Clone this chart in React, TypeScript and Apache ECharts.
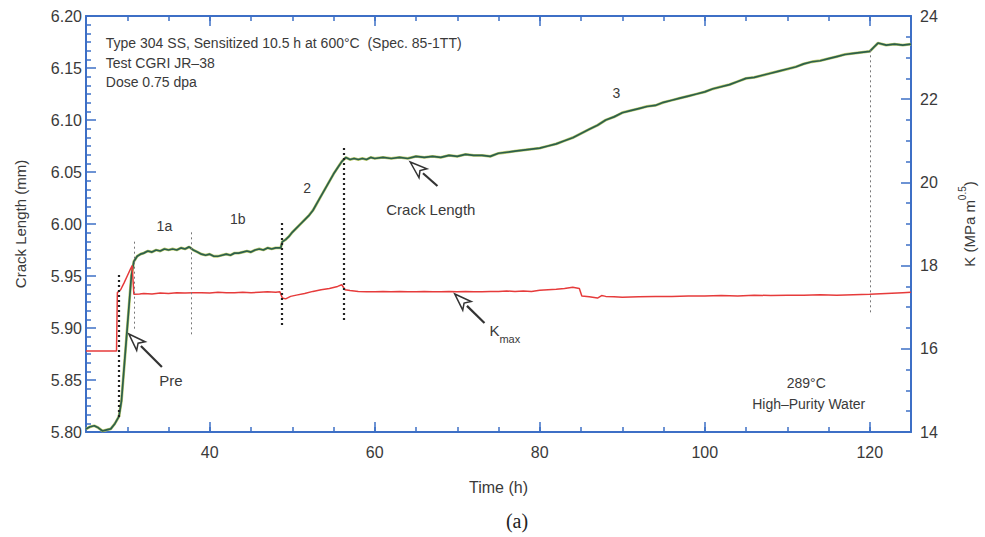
import React, { useEffect, useRef } from "react";
import * as echarts from "echarts";

// ---------- DATA ----------
// Crack length (mm) vs time (h)
const crackData: [number, number][] = [
  [25, 5.803], [25.5, 5.805], [26, 5.806], [26.5, 5.804], [27, 5.801], [27.5, 5.802], [28, 5.803],
  [28.5, 5.808], [29, 5.815], [29.3, 5.83], [29.6, 5.86], [29.9, 5.89], [30.2, 5.92], [30.5, 5.95],
  [30.8, 5.964], [31.2, 5.969], [31.6, 5.971], [32, 5.972], [32.5, 5.974], [33, 5.973], [33.5, 5.975],
  [34, 5.974], [34.5, 5.976], [35, 5.975], [35.5, 5.976], [36, 5.975], [36.5, 5.977], [37, 5.976],
  [37.5, 5.978], [38, 5.975], [38.5, 5.973], [39, 5.971], [39.5, 5.97], [40, 5.971], [40.5, 5.969],
  [41, 5.969], [41.5, 5.97], [42, 5.971], [42.5, 5.97], [43, 5.972], [43.5, 5.972], [44, 5.973],
  [44.5, 5.974], [45, 5.973], [45.5, 5.975], [46, 5.976], [46.5, 5.975], [47, 5.977], [47.5, 5.976],
  [48, 5.977], [48.6, 5.977], [48.8, 5.983], [49.2, 5.985], [49.6, 5.988], [50, 5.992], [50.5, 5.996],
  [51, 6.0], [51.5, 6.004], [52, 6.008], [52.5, 6.013], [53, 6.02], [53.5, 6.027], [54, 6.034],
  [54.5, 6.041], [55, 6.048], [55.5, 6.054], [56, 6.06], [56.5, 6.064], [57, 6.062], [57.5, 6.063],
  [58, 6.062], [58.5, 6.063], [59, 6.062], [59.5, 6.064], [60, 6.063], [61, 6.064], [62, 6.063],
  [63, 6.064], [64, 6.063], [65, 6.065], [66, 6.064], [67, 6.065], [68, 6.064], [69, 6.066],
  [70, 6.065], [71, 6.067], [72, 6.066], [73, 6.066], [74, 6.065], [75, 6.068], [76, 6.069],
  [77, 6.07], [78, 6.071], [79, 6.072], [80, 6.073], [81, 6.075], [82, 6.077], [83, 6.08],
  [84, 6.083], [85, 6.087], [86, 6.091], [87, 6.095], [88, 6.1], [89, 6.103], [90, 6.107],
  [91, 6.109], [92, 6.111], [93, 6.113], [94, 6.114], [95, 6.117], [96, 6.119], [97, 6.121],
  [98, 6.123], [99, 6.125], [100, 6.127], [101, 6.13], [102, 6.132], [103, 6.134], [104, 6.137],
  [105, 6.14], [106, 6.141], [107, 6.143], [108, 6.145], [109, 6.147], [110, 6.149], [111, 6.151],
  [112, 6.154], [113, 6.156], [114, 6.157], [115, 6.159], [116, 6.161], [117, 6.163], [118, 6.164],
  [119, 6.165], [120, 6.166], [120.5, 6.17], [121, 6.174], [122, 6.172], [123, 6.173], [124, 6.172],
  [125, 6.173],
];

// Kmax (MPa m^0.5) vs time (h)
const kmaxData: [number, number][] = [
  [25, 15.95], [28.7, 15.95], [28.8, 17.35], [29.2, 17.42], [29.6, 17.58], [30, 17.75], [30.4, 17.92],
  [30.6, 18.0], [30.8, 17.31], [31.5, 17.32], [32, 17.33], [33, 17.32], [34, 17.34], [35, 17.33],
  [36, 17.35], [37, 17.34], [38, 17.35], [39, 17.35], [40, 17.34], [41, 17.36], [42, 17.35],
  [43, 17.35], [44, 17.36], [45, 17.35], [46, 17.36], [47, 17.37], [48, 17.36], [48.5, 17.37],
  [48.8, 17.22], [49.2, 17.2], [49.8, 17.26], [50.5, 17.29], [51.5, 17.33], [52.5, 17.38],
  [53.5, 17.42], [54.5, 17.45], [55.5, 17.5], [56, 17.54], [56.4, 17.42], [57, 17.4], [58, 17.38],
  [59, 17.37], [60, 17.37], [61, 17.38], [62, 17.37], [63, 17.38], [64, 17.37], [65, 17.37],
  [66, 17.38], [67, 17.37], [68, 17.37], [69, 17.38], [70, 17.37], [71, 17.38], [72, 17.37],
  [73, 17.37], [74, 17.38], [75, 17.38], [76, 17.39], [77, 17.38], [78, 17.39], [79, 17.38],
  [80, 17.41], [81, 17.42], [82, 17.43], [83, 17.45], [84, 17.48], [84.8, 17.45], [85.1, 17.27],
  [86, 17.25], [87, 17.22], [87.5, 17.28], [88, 17.26], [89, 17.25], [90, 17.24], [92, 17.25],
  [94, 17.26], [96, 17.26], [98, 17.27], [100, 17.27], [102, 17.28], [104, 17.27], [106, 17.29],
  [108, 17.28], [110, 17.29], [112, 17.29], [114, 17.3], [116, 17.29], [118, 17.3], [120, 17.31],
  [122, 17.33], [124, 17.35], [125, 17.36],
];

// Stage boundary markers: time, top and bottom (crack length, mm), heavy?
const markerTimes = [29.0, 30.8, 37.8, 48.7, 56.2, 120.0];
const markerTops = [5.951, 5.983, 5.992, 6.001, 6.073, 6.167];
const markerBottoms = [5.8115, 5.898, 5.893, 5.901, 5.906, 5.9125];
const markerHeavy = [true, false, false, true, true, false];

// Stage labels (time, crack length)
const stageLabels = ["1a", "1b", "2", "3"];
const stageLabelT = [34.5, 43.4, 51.8, 89.3];
const stageLabelA = [5.998, 6.005, 6.035, 6.126];

const xMajorTicks = [40, 60, 80, 100, 120];

const infoLines = [
  "Type 304 SS, Sensitized 10.5 h at 600°C  (Spec. 85-1TT)",
  "Test CGRI JR–38",
  "Dose 0.75 dpa",
];

const FONT = "'Liberation Sans', Arial, Helvetica, sans-serif";
const AXIS_COLOR = "#3d6fc6";
const TEXT_COLOR = "#3a3a3a";

export default function App() {
  const ref = useRef<HTMLDivElement>(null);

  useEffect(() => {
    if (!ref.current) return;
    const chart = echarts.init(ref.current, undefined, { renderer: "svg" });

    const axisLine = { show: true, onZero: false, lineStyle: { color: AXIS_COLOR, width: 2 } };
    const tickStyle = { color: AXIS_COLOR, width: 1.5 };

    const xBase = { type: "value", min: 25, max: 125, interval: 5, splitLine: { show: false } };

    const option: any = {
      animation: false,
      backgroundColor: "#ffffff",
      grid: { left: 86, right: 67, top: 16, bottom: 105, containLabel: false },
      xAxis: [
        {
          ...xBase,
          position: "bottom",
          axisLine,
          axisTick: { inside: true, length: 10, customValues: xMajorTicks, lineStyle: tickStyle },
          axisLabel: {
            customValues: xMajorTicks,
            formatter: (v: number) => (v % 20 === 0 ? String(v) : ""),
            color: TEXT_COLOR,
            fontSize: 16,
            fontFamily: FONT,
            margin: 12,
          },
          name: "Time (h)",
          nameLocation: "middle",
          nameGap: 47,
          nameTextStyle: { color: TEXT_COLOR, fontSize: 16, fontFamily: FONT },
        },
        {
          ...xBase,
          position: "top",
          axisLine,
          axisTick: { inside: true, length: 10, customValues: xMajorTicks, lineStyle: tickStyle },
          axisLabel: { show: false },
        },
        {
          ...xBase,
          position: "bottom",
          axisLine: { show: false },
          axisTick: { inside: true, length: 5, lineStyle: tickStyle },
          axisLabel: { show: false },
        },
        {
          ...xBase,
          position: "top",
          axisLine: { show: false },
          axisTick: { inside: true, length: 5, lineStyle: tickStyle },
          axisLabel: { show: false },
        },
      ],
      yAxis: [
        {
          type: "value",
          position: "left",
          min: 5.8,
          max: 6.2,
          interval: 0.05,
          axisLine,
          axisTick: { inside: true, length: 10, lineStyle: tickStyle },
          minorTick: { show: true, splitNumber: 6, length: 5, lineStyle: tickStyle },
          splitLine: { show: false },
          minorSplitLine: { show: false },
          axisLabel: {
            formatter: (v: number) => v.toFixed(2),
            color: TEXT_COLOR,
            fontSize: 16,
            fontFamily: FONT,
            margin: 4,
          },
          name: "Crack Length (mm)",
          nameLocation: "middle",
          nameGap: 58,
          nameRotate: 90,
          nameTextStyle: { color: TEXT_COLOR, fontSize: 15, fontFamily: FONT },
        },
        {
          type: "value",
          position: "right",
          min: 14,
          max: 24,
          interval: 2,
          axisLine,
          axisTick: { inside: true, length: 10, lineStyle: tickStyle },
          minorTick: { show: true, splitNumber: 4, length: 5, lineStyle: tickStyle },
          splitLine: { show: false },
          minorSplitLine: { show: false },
          axisLabel: { color: TEXT_COLOR, fontSize: 16, fontFamily: FONT, margin: 9 },
          name: "{n|K (MPa m}{s|0.5}{n|)}",
          nameLocation: "middle",
          nameGap: 46,
          nameRotate: 90,
          nameTextStyle: {
            color: TEXT_COLOR,
            fontFamily: FONT,
            rich: {
              n: { fontSize: 15, fontFamily: FONT, color: TEXT_COLOR, lineHeight: 20, verticalAlign: "bottom" },
              s: { fontSize: 10, fontFamily: FONT, color: TEXT_COLOR, lineHeight: 20, verticalAlign: "top" },
            },
          },
        },
      ],
      series: [
        {
          type: "line",
          name: "Crack Length (under)",
          data: crackData,
          xAxisIndex: 0,
          yAxisIndex: 0,
          showSymbol: false,
          symbol: "none",
          silent: true,
          lineStyle: { color: "#bccb6e", width: 2.8 },
          z: 2,
          markLine: {
            silent: true,
            symbol: ["none", "none"],
            label: { show: false },
            data: markerTimes.map((t, i) => [
              {
                coord: [t, markerTops[i]],
                lineStyle: markerHeavy[i]
                  ? { color: "#222", width: 2.2, type: [2, 3] }
                  : { color: "#777", width: 1, type: [2, 3] },
              },
              { coord: [t, markerBottoms[i]] },
            ]),
          },
        },
        {
          type: "line",
          name: "Crack Length",
          data: crackData,
          xAxisIndex: 0,
          yAxisIndex: 0,
          showSymbol: false,
          symbol: "none",
          lineStyle: { color: "#2c5f4c", width: 1.7 },
          z: 3,
        },
        {
          type: "line",
          name: "Kmax",
          data: kmaxData,
          xAxisIndex: 0,
          yAxisIndex: 1,
          showSymbol: false,
          symbol: "none",
          lineStyle: { color: "#e63b3b", width: 1.5 },
          z: 3,
        },
      ],
    };

    chart.setOption(option);

    const P = (t: number, a: number): number[] =>
      chart.convertToPixel({ xAxisIndex: 0, yAxisIndex: 0 } as any, [t, a]) as number[];

    const arrow = (tip: number[], tail: number[]) => {
      const dx = tip[0] - tail[0];
      const dy = tip[1] - tail[1];
      const len = Math.sqrt(dx * dx + dy * dy);
      const ux = dx / len;
      const uy = dy / len;
      const nx = -uy;
      const ny = ux;
      const L = 17;
      const W = 6;
      const bx = tip[0] - ux * L;
      const by = tip[1] - uy * L;
      return [
        {
          type: "line",
          shape: { x1: tail[0], y1: tail[1], x2: bx, y2: by },
          style: { stroke: "#333", lineWidth: 2.2 },
          z: 50,
        },
        {
          type: "polygon",
          shape: {
            points: [
              [tip[0], tip[1]],
              [bx + nx * W, by + ny * W],
              [bx + ux * 4, by + uy * 4],
              [bx - nx * W, by - ny * W],
            ],
          },
          style: { fill: "#ffffff", stroke: "#333", lineWidth: 1.5, lineJoin: "miter" },
          z: 51,
        },
      ];
    };

    const text = (t: number, a: number, s: string, size: number, align: string, extra: any = {}) => {
      const p = P(t, a);
      return {
        type: "text",
        x: p[0],
        y: p[1],
        style: {
          text: s,
          fill: TEXT_COLOR,
          font: `${size}px ${FONT}`,
          align,
          verticalAlign: "middle",
          ...extra,
        },
        z: 60,
      };
    };

    const graphics: any[] = [];
    // info text
    const infoA = [6.174, 6.1548, 6.1365];
    infoLines.forEach((s, i) => graphics.push(text(27.4, infoA[i], s, 14, "left")));
    // stage labels
    stageLabels.forEach((s, i) => graphics.push(text(stageLabelT[i], stageLabelA[i], s, 14, "center")));
    // arrows & labels
    graphics.push(...arrow(P(64.3, 6.0596), P(67.6, 6.0365)));
    graphics.push(text(66.8, 6.0135, "Crack Length", 15, "center"));
    graphics.push(...arrow(P(30.2, 5.8942), P(34.2, 5.8625)));
    graphics.push(text(35.3, 5.85, "Pre", 15, "center"));
    graphics.push(...arrow(P(69.7, 5.9327), P(73.3, 5.9048)));
    {
      const p = P(73.9, 5.8945);
      graphics.push({
        type: "text",
        x: p[0],
        y: p[1],
        style: {
          text: "{k|K}{m|max}",
          fill: TEXT_COLOR,
          align: "left",
          verticalAlign: "middle",
          rich: {
            k: { fontSize: 15, fontFamily: FONT, fill: TEXT_COLOR, lineHeight: 22, verticalAlign: "top" },
            m: { fontSize: 11, fontFamily: FONT, fill: TEXT_COLOR, lineHeight: 22, verticalAlign: "bottom" },
          },
        },
        z: 60,
      });
    }
    graphics.push(text(112.3, 5.847, "289°C", 14, "center"));
    graphics.push(text(112.6, 5.8269, "High–Purity Water", 14, "center"));
    // caption
    graphics.push({
      type: "text",
      x: 517,
      y: 521,
      style: {
        text: "(a)",
        fill: "#222",
        font: "20px 'Liberation Serif', 'DejaVu Serif', serif",
        align: "center",
        verticalAlign: "middle",
      },
      z: 60,
    });

    chart.setOption({ graphic: graphics });

    return () => chart.dispose();
  }, []);

  return (
    <div
      ref={ref}
      style={{ position: "fixed", left: 0, top: 0, width: 985, height: 537, background: "#fff" }}
    />
  );
}
